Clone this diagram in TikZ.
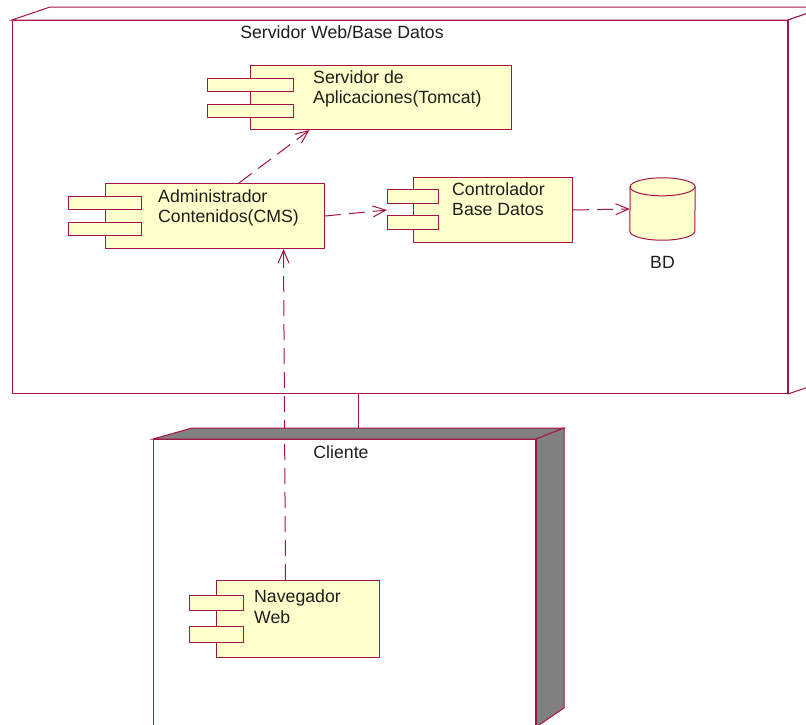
\documentclass[tikz,border=0pt]{standalone}
\usepackage{fontspec}
\setmainfont{Liberation Sans}
\usepackage{tikz}
\usetikzlibrary{arrows.meta,positioning,shapes.geometric,calc}
\definecolor{rose}{RGB}{165,20,70}
\definecolor{compyellow}{RGB}{255,255,204}
\definecolor{nodegray}{RGB}{128,128,128}
\definecolor{inkblack}{RGB}{30,30,30}
\tikzset{
    devnode/.style={
        draw=rose,
        line width=1pt,
        fill=white,
        anchor=north west,
        inner sep=0pt
    },
    face/.style={draw=rose, line width=1pt},
    comp/.style={
        draw=rose,
        line width=1pt,
        fill=compyellow,
        anchor=north west,
        inner sep=0pt
    },
    tab/.style={draw=rose, line width=1pt, fill=compyellow, inner sep=0pt},
    dbbox/.style={
        inner sep=0pt,
        minimum width=65pt,
        minimum height=62pt
    },
    txt/.style={
        font=\fontsize{17.7}{20.5}\selectfont,
        text=inkblack,
        align=left,
        inner sep=0pt,
        anchor=base west
    },
    nodetitle/.style={txt, anchor=base},
    dep/.style={rose, line width=1pt, dash pattern=on 16pt off 8pt,
        -{Straight Barb[length=13pt,width=11pt]}},
    assoc/.style={rose, line width=1pt}
}
% two small tabs on the left side of a component box
\newcommand{\comptabs}[5]{%
    \node[tab, minimum width=#2, minimum height=#3] (#1-a) at ($(#1.north west)+(0,#4)$) {};
    \node[tab, minimum width=#2, minimum height=#3] (#1-b) at ($(#1.north west)+(0,#5)$) {};
}

\begin{document}
\begin{tikzpicture}[x=1pt, y=-1pt]
    \useasboundingbox (0,0) rectangle (806,724);
    \clip (0,0) rectangle (806,724);

    % servidor node
    \node[devnode, minimum width=775pt, minimum height=373pt] (servidor) at (12,20) {};
    \draw[face, fill=white] (servidor.north west) -- ++(38,-13) -- ($(servidor.north east)+(38,-13)$) -- (servidor.north east) -- cycle;
    \draw[face, fill=white] (servidor.north east) -- ++(38,-13) -- ($(servidor.south east)+(38,-13)$) -- (servidor.south east);
    \draw[rose, line width=2pt] (servidor.north east) -- (servidor.south east);
    \node[nodetitle] (servidortitle) at ($(servidor.north west)+(330,18)$) {Servidor Web/Base Datos};

    % cliente node
    \node[devnode, minimum width=382pt, minimum height=300pt] (cliente) at (153,439) {};
    \node[nodetitle] (clientetitle) at ($(cliente.north west)+(188,19)$) {Cliente};

    % components (text base sits on the last line)
    \node[comp, minimum width=261pt, minimum height=64pt] (tomcat) at (250,65) {};
    \comptabs{tomcat}{86pt}{13pt}{19.5}{45.5}
    \node[txt] (tomcattext) at ($(tomcat.north west)+(63,38.5)$) {Servidor de\\Aplicaciones(Tomcat)};

    \node[comp, minimum width=219pt, minimum height=65pt] (cms) at (105,183) {};
    \comptabs{cms}{73pt}{13pt}{19.5}{45.5}
    \node[txt] (cmstext) at ($(cms.north west)+(53,39.5)$) {Administrador\\Contenidos(CMS)};

    \node[comp, minimum width=159pt, minimum height=65pt] (ctrl) at (413,177) {};
    \comptabs{ctrl}{51pt}{14pt}{19}{45}
    \node[txt] (ctrltext) at ($(ctrl.north west)+(39,38.5)$) {Controlador\\Base Datos};

    % database drum
    \node[dbbox] (bd) at (662.5,209) {};
    \draw[face, fill=compyellow] ($(bd.south west)+(0,-9)$) arc[start angle=180, end angle=0, x radius=32.5, y radius=9]
        -- ($(bd.north east)+(0,9)$) arc[start angle=0, end angle=-180, x radius=32.5, y radius=9] -- cycle;
    \draw[face] ($(bd.north west)+(0,9)$) arc[start angle=180, end angle=0, x radius=32.5, y radius=9];
    \node[nodetitle] (bdtext) at ($(bd.south)+(0,28)$) {BD};

    \node[comp, minimum width=163pt, minimum height=77pt] (nav) at (216,580) {};
    \comptabs{nav}{54pt}{15.5pt}{23}{54.5}
    \node[txt] (navtext) at ($(nav.north west)+(38,43)$) {Navegador\\Web};

    % dependencies
    \draw[dep] ([xshift=24pt]cms.north) -- ([xshift=-71.5pt]tomcat.south);
    \draw[dep] (cms.east) -- ([xshift=-26pt]ctrl.west);
    \draw[dep] (ctrl.east) -- (bd.west);
    \draw[dep] ([xshift=-12.5pt]nav.north) -- ([xshift=68.5pt]cms.south);
    \draw[assoc] ([xshift=-41.5pt]servidor.south) -- ([xshift=14pt]cliente.north);

    % shaded faces of cliente
    \draw[face, fill=nodegray] (cliente.north west) -- ++(39,-11) -- ($(cliente.north east)+(28,-11)$) -- (cliente.north east) -- cycle;
    \draw[face, fill=nodegray] (cliente.north east) -- ++(28,-11) -- ++(0,280) -- ($(cliente.north east)+(0,288)$) -- cycle;
    \draw[rose, line width=2pt] (cliente.north east) -- ++(0,300);
\end{tikzpicture}
\end{document}
